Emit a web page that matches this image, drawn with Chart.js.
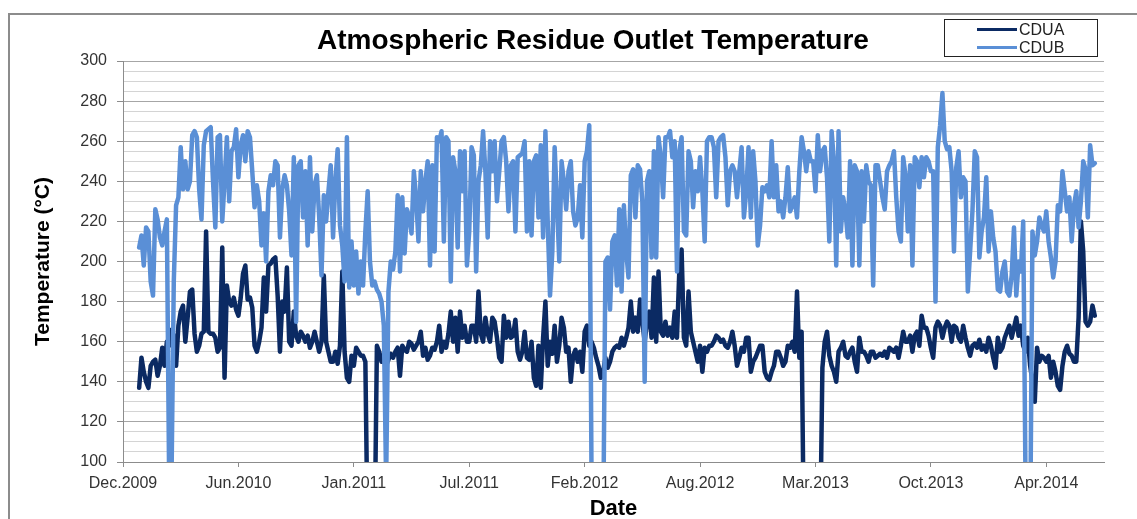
<!DOCTYPE html>
<html>
<head>
<meta charset="utf-8">
<title>Atmospheric Residue Outlet Temperature</title>
<script src="https://cdn.jsdelivr.net/npm/chart.js@4"></script>
<style>
  html, body { margin: 0; padding: 0; background: #fff; }
  #wrap { position: relative; width: 1137px; height: 519px; overflow: hidden; }
  #frame { position: absolute; left: 8px; top: 13px; width: 1160px; height: 540px;
           border-top: 2px solid #8c8c8c; border-left: 2px solid #8c8c8c; }
  #chart { position: absolute; left: 0; top: 0; }
  #title { position: absolute; left: 0; top: 26px; width: 1186px; text-align: center;
           font: bold 28px "Liberation Sans", Arial, sans-serif; line-height: 28px; color: #000; }
  #legend { position: absolute; left: 944px; top: 19px; width: 152px; height: 36px;
            border: 1px solid #222; background: #fff;
            font: 16px "Liberation Sans", Arial, sans-serif; color: #222; }
  .key { position: absolute; left: 32px; width: 40px; height: 3px; }
  .name { position: absolute; left: 74px; line-height: 16px; }
</style>
</head>
<body>
<div id="wrap">
  <div id="frame"></div>
  <canvas id="chart" width="1137" height="519"></canvas>
  <div id="title">Atmospheric Residue Outlet Temperature</div>
  <div id="legend">
    <div class="key" style="top:8px;background:#0b2a63"></div><div class="name" style="top:2px">CDUA</div>
    <div class="key" style="top:26px;background:#5a8fd6"></div><div class="name" style="top:20px">CDUB</div>
  </div>
</div>
<script>
// Time axis: days counted from 1 Dec 2009, a label every 200 days
const tickDays = [0, 200, 400, 600, 800, 1000, 1200, 1400, 1600];
const tickLabels = ['Dec.2009', 'Jun.2010', 'Jan.2011', 'Jul.2011', 'Feb.2012',
                    'Aug.2012', 'Mar.2013', 'Oct.2013', 'Apr.2014'];

// Outlet temperature readings (°C), one every 4 days from day 28
const firstDay = 28;
const sampleStep = 4;

const cdua = [
  137,152,145,140,137,148,150,151,143,148,
  157,148,160,158,166,163,148,168,175,178,
  160,172,185,186,164,155,158,164,165,215,
  165,164,164,162,155,157,207,142,188,180,
  178,182,176,173,182,194,198,181,182,177,
  158,155,160,167,192,175,198,199,201,202,
  183,155,180,175,197,160,158,175,163,160,
  165,163,160,163,157,160,165,160,155,160,
  193,160,155,150,150,155,149,158,195,155,
  142,140,153,148,157,155,153,153,150,60,
  60,60,60,158,155,150,151,148,151,154,
  152,155,157,143,158,156,155,160,159,156,
  158,160,165,153,157,151,153,157,156,160,
  168,155,160,157,164,
  175,160,172,155,175,162,168,160,160,168,
  168,160,185,164,160,172,164,160,172,170,
  162,152,150,173,162,170,162,163,171,155,
  151,155,165,152,151,160,142,138,158,137,
  162,180,148,160,154,168,150,158,172,167,
  155,157,140,153,156,150,155,145,165,168,
  158,160,157,152,148,142,145,152,147,150,
  155,157,158,157,162,158,162,167,180,165,
  172,165,181,170,160,170,175,162,192,160,
  195,165,163,170,163,167,162,175,162,195,
  206,162,158,185,165,160,155,150,158,145,
  157,155,158,158,160,163,162,160,161,158,
  157,160,165,158,148,152,157,155,162,162,
  145,150,152,155,158,158,145,142,141,145,
  148,155,
  155,152,148,150,158,157,160,155,185,152,165,
  60,60,60,60,60,60,60,60,
  147,160,165,153,148,145,140,155,157,160,
  153,152,155,157,150,145,162,155,155,153,
  150,155,155,152,153,154,153,155,152,157,
  156,155,157,152,158,165,160,160,163,155,
  163,165,158,173,167,167,163,157,152,167,
  170,168,162,167,170,168,160,168,167,162,
  160,168,162,157,153,158,159,157,161,156,
  158,155,162,158,152,147,162,155,157,162,
  165,168,162,167,172,163,168,158,155,162,
  148,140,130,157,150,153,152,150,153,142,
  150,145,138,136,148,155,158,154,153,150,
  150,172,220,205,170,168,170,178,173
];

const cdub = [
  207,213,198,217,215,190,183,226,221,212,
  208,215,221,90,90,190,228,232,257,236,
  250,236,240,263,265,262,236,221,258,265,
  266,267,240,217,262,263,220,240,262,230,
  255,257,266,242,258,263,250,265,262,245,
  227,238,230,208,224,200,235,243,238,250,
  248,212,236,243,238,225,203,252,170,248,
  250,222,245,208,252,215,238,243,222,193,
  233,220,235,248,212,240,256,218,208,190,
  262,187,210,188,205,184,200,188,215,235,
  200,188,190,186,184,180,168,90,185,200,
  196,205,233,195,232,204,226,222,214,245,
  232,210,245,225,240,250,198,248,205,262,
  260,265,210,262,260,
  190,252,245,207,255,235,255,198,215,257,
  253,195,240,248,265,245,212,260,245,260,
  230,245,260,262,250,225,248,250,215,252,
  253,254,260,215,250,213,250,253,222,258,
  212,265,220,183,205,257,230,200,250,240,
  226,245,250,225,218,222,238,212,250,255,
  268,90,60,60,60,60,60,200,202,176,
  210,213,188,226,185,228,205,192,243,246,
  222,248,246,230,140,240,245,202,255,202,
  262,252,232,262,262,265,252,260,195,255,
  262,215,213,255,250,227,245,235,252,235,
  210,260,262,262,257,232,260,262,263,252,
  228,245,248,245,232,245,257,222,235,257,
  222,255,240,208,218,237,235,238,232,260,
  232,248,
  225,230,222,232,247,225,228,232,222,245,
  262,255,245,255,250,250,235,263,245,255,
  257,242,210,265,250,198,265,215,232,225,
  212,250,198,248,245,198,245,220,248,240,
  238,188,248,248,240,232,226,245,248,250,
  255,232,215,210,252,243,215,248,198,252,
  250,237,252,242,252,250,245,245,180,257,
  268,284,260,256,257,245,205,247,255,232,
  242,240,185,205,225,255,252,202,215,222,
  242,205,225,212,205,186,185,195,200,185,
  183,193,217,183,200,195,220,90,60,60,
  215,203,210,222,218,215,225,210,202,192,
  200,228,225,245,235,225,232,210,228,235,
  217,230,250,246,222,258,248,249
];

const sampleDays = cdua.map((_, i) => firstDay + i * sampleStep);
const toPoints = (values) => values.map((v, i) => ({ x: sampleDays[i], y: v }));

// y gridlines every 5 °C, labelled every 20 °C
const yMin = 100, yMax = 300, yMinorStep = 5, yMajorStep = 20;
const yTickValues = [];
for (let v = yMin; v <= yMax; v += yMinorStep) yTickValues.push(v);

const isMajor = (v) => v % yMajorStep === 0;
const axisGrey = '#8c8c8c';

const lineStyle = { borderWidth: 4.5, pointRadius: 0, tension: 0, clip: 0,
                    borderJoinStyle: 'round', borderCapStyle: 'round' };

new Chart(document.getElementById('chart'), {
  type: 'line',
  data: {
    datasets: [
      Object.assign({ label: 'CDUA', data: toPoints(cdua), borderColor: '#0b2a63', order: 1 }, lineStyle),
      Object.assign({ label: 'CDUB', data: toPoints(cdub), borderColor: '#5a8fd6', order: 0 }, lineStyle)
    ]
  },
  options: {
    responsive: false,
    animation: false,
    devicePixelRatio: 1,
    layout: { padding: { left: 0, top: 61, right: 33, bottom: 0 } },
    plugins: { legend: { display: false }, tooltip: { enabled: false }, title: { display: false } },
    scales: {
      x: {
        type: 'linear', min: 0, max: 1700,
        afterBuildTicks: (axis) => { axis.ticks = tickDays.map((v) => ({ value: v })); },
        afterFit: (axis) => { axis.height = 57; },
        grid: { drawOnChartArea: false, tickLength: 5, color: axisGrey },
        border: { color: axisGrey, width: 1 },
        ticks: {
          autoSkip: false, maxRotation: 0, minRotation: 0, padding: 7, color: '#333',
          font: { family: '"Liberation Sans", Arial, sans-serif', size: 16 },
          callback: (v, i) => tickLabels[i]
        },
        title: {
          display: true, text: 'Date', color: '#000',
          font: { family: '"Liberation Sans", Arial, sans-serif', size: 22, weight: 'bold', lineHeight: 0.8 },
          padding: { top: 0, bottom: 1 }
        }
      },
      y: {
        type: 'linear', min: yMin, max: yMax,
        afterBuildTicks: (axis) => { axis.ticks = yTickValues.map((v) => ({ value: v })); },
        afterFit: (axis) => { axis.width = 123; },
        grid: {
          tickLength: 6, lineWidth: 1,
          color: (c) => isMajor(c.tick.value) ? '#a6a6a6' : '#d4d4d4',
          tickColor: (c) => isMajor(c.tick.value) ? axisGrey : 'rgba(0,0,0,0)'
        },
        border: { color: axisGrey, width: 1 },
        ticks: {
          autoSkip: false, padding: 10, color: '#333',
          font: { family: '"Liberation Sans", Arial, sans-serif', size: 16 },
          callback: (v) => isMajor(v) ? String(v) : ''
        },
        title: {
          display: true, text: 'Temperature (°C)', color: '#000',
          font: { family: '"Liberation Sans", Arial, sans-serif', size: 21, weight: 'bold', lineHeight: 1.2 },
          padding: { top: 31, bottom: 0 }
        }
      }
    }
  }
});
</script>
</body>
</html>
